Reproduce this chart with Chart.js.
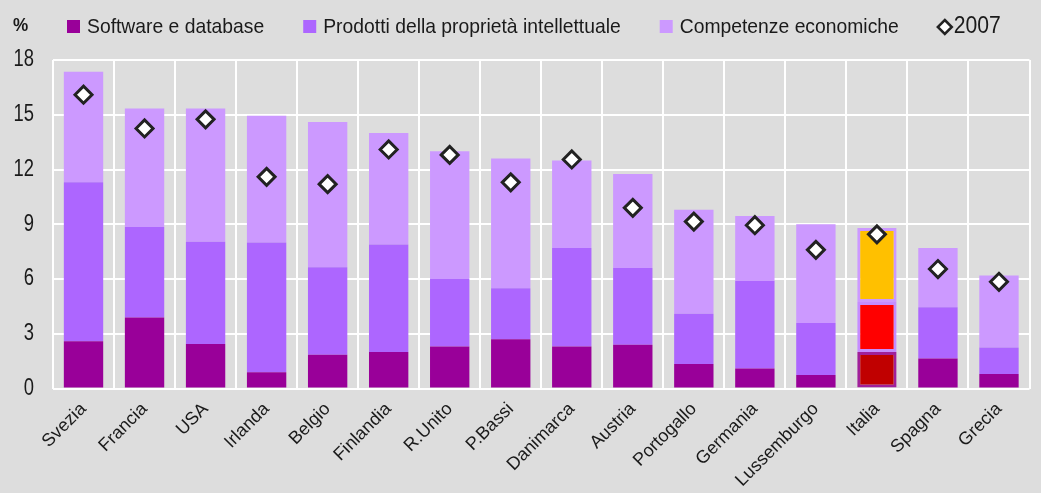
<!DOCTYPE html>
<html>
<head>
<meta charset="utf-8">
<script src="https://cdn.jsdelivr.net/npm/chart.js@4.4.1/dist/chart.umd.min.js"></script>
<style>
  body { margin: 0; background: #dddddd; }
  canvas { display: block; }
</style>
</head>
<body>
<canvas id="myChart" width="1041" height="493"></canvas>
<script>
const paesi = ['Svezia', 'Francia', 'USA', 'Irlanda', 'Belgio', 'Finlandia', 'R.Unito', 'P.Bassi',
  'Danimarca', 'Austria', 'Portogallo', 'Germania', 'Lussemburgo', 'Italia', 'Spagna', 'Grecia'];
// quote per componente (punti %)
const software = [2.6, 3.9, 2.45, 0.9, 1.85, 2.0, 2.3, 2.7, 2.3, 2.4, 1.35, 1.1, 0.75, 2.0, 1.65, 0.8];
const proprieta = [8.7, 4.95, 5.6, 7.1, 4.8, 5.9, 3.7, 2.8, 5.4, 4.2, 2.75, 4.8, 2.85, 2.75, 2.8, 1.45];
const competenze = [6.05, 6.5, 7.3, 6.95, 7.95, 6.1, 7.0, 7.1, 4.8, 5.15, 5.7, 3.55, 5.4, 4.05, 3.25, 3.95];
const anno2007 = [16.1, 14.25, 14.75, 11.6, 11.2, 13.1, 12.8, 11.3, 12.55, 9.9, 9.15, 8.95, 7.6, 8.45, 6.55, 5.85];
const yTicks = [0, 3, 6, 9, 12, 15, 18];

const ITA = paesi.indexOf('Italia');
const col = (base, ita) => paesi.map((p, i) => i === ITA ? ita : base);
const bw = paesi.map((p, i) => i === ITA ? 3 : 0);

const FONT = "'Liberation Sans', Arial, sans-serif";
const TXT = '#1a1a1a';

// testo "stretto" come nell'originale: scala orizzontale
function narrowText(ctx, text, x, y, size, sx, align, bold) {
  ctx.save();
  ctx.font = (bold ? 'bold ' : '') + size + 'px ' + FONT;
  ctx.textBaseline = 'middle';
  ctx.textAlign = align;
  ctx.translate(x, y);
  ctx.scale(sx, 1);
  ctx.fillText(text, 0, 0);
  const w = ctx.measureText(text).width * sx;
  ctx.restore();
  return w;
}

const decorations = {
  id: 'decorations',
  afterDraw(chart) {
    const ctx = chart.ctx;
    ctx.fillStyle = TXT;
    narrowText(ctx, '%', 13, 26, 19, 0.9, 'left', true);

    // etichette asse y
    const y = chart.scales.y;
    yTicks.forEach(v => {
      ctx.fillStyle = TXT;
      narrowText(ctx, String(v), 34, y.getPixelForValue(v), 23, 0.8, 'right', false);
    });

    // legenda
    let x = 67;
    const cy = 27;
    chart.data.datasets.forEach(ds => {
      ctx.save();
      if (ds.type === 'bar') {
        ctx.fillStyle = ds.backgroundColor[0];
        ctx.fillRect(x, cy - 7, 13, 13);
        x += 20;
      } else {
        ctx.beginPath();
        ctx.moveTo(x + 7, cy - 7);
        ctx.lineTo(x + 14, cy);
        ctx.lineTo(x + 7, cy + 7);
        ctx.lineTo(x, cy);
        ctx.closePath();
        ctx.fillStyle = '#ffffff';
        ctx.fill();
        ctx.lineWidth = 2.5;
        ctx.strokeStyle = '#222222';
        ctx.stroke();
        x += 16;
      }
      ctx.restore();
      ctx.fillStyle = TXT;
      const size = ds.type === 'bar' ? 21 : 23;
      x += narrowText(ctx, ds.label, x, cy, size, 0.92, 'left', false) + 39;
    });
  }
};

let ctx = document.getElementById('myChart').getContext('2d');
new Chart(ctx, {
  data: {
    labels: paesi,
    datasets: [
      {
        type: 'bar', label: 'Software e database', data: software, stack: 's', order: 1,
        backgroundColor: col('#990099', '#c00000'), borderColor: col('#990099', '#a0209a'),
        borderWidth: bw, borderSkipped: false
      },
      {
        type: 'bar', label: 'Prodotti della proprietà intellettuale', data: proprieta, stack: 's', order: 1,
        backgroundColor: col('#ad66ff', '#ff0000'), borderColor: col('#ad66ff', '#c58cff'),
        borderWidth: bw, borderSkipped: false
      },
      {
        type: 'bar', label: 'Competenze economiche', data: competenze, stack: 's', order: 1,
        backgroundColor: col('#cc99ff', '#ffc000'), borderColor: col('#cc99ff', '#cc99ff'),
        borderWidth: bw, borderSkipped: false
      },
      {
        type: 'line', label: '2007', data: anno2007, stack: 'p', order: 0,
        showLine: false, pointStyle: 'rectRot', pointRadius: 8.5, pointHoverRadius: 8.5,
        pointBackgroundColor: '#ffffff', pointBorderColor: '#222222', pointBorderWidth: 3,
        backgroundColor: '#ffffff', borderColor: '#222222', borderWidth: 3
      }
    ]
  },
  options: {
    responsive: false,
    animation: false,
    layout: { padding: { left: 53, right: -7, top: 60, bottom: -8 } },
    plugins: {
      legend: { display: false },
      tooltip: { enabled: false }
    },
    scales: {
      x: {
        stacked: true,
        offset: true,
        grid: { color: '#ffffff', lineWidth: 2, offset: true, drawTicks: false },
        border: { display: false },
        ticks: {
          color: TXT, minRotation: 45, maxRotation: 45, padding: 10,
          font: { family: FONT, size: 18 }
        }
      },
      y: {
        stacked: true,
        min: 0, max: 18,
        afterBuildTicks: (axis) => { axis.ticks = yTicks.map(v => ({ value: v })); },
        grid: { color: '#ffffff', lineWidth: 2, drawTicks: false },
        border: { display: false },
        ticks: { display: false }
      }
    },
    datasets: { bar: { categoryPercentage: 1.0, barPercentage: 0.645 } }
  },
  plugins: [decorations]
});
</script>
</body>
</html>
